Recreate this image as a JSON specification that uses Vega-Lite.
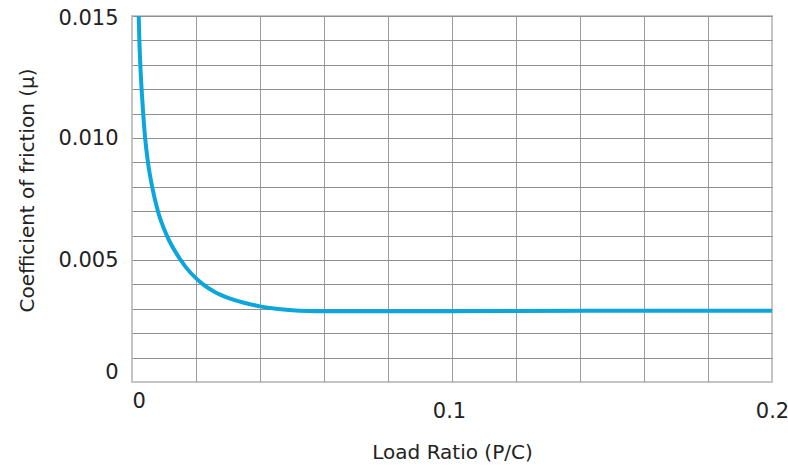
{
  "$schema": "https://vega.github.io/schema/vega-lite/v6.json",
  "width": 640,
  "height": 366,
  "autosize": {"type": "none"},
  "padding": {"left": 132, "top": 16, "right": 16, "bottom": 85},
  "background": "white",
  "config": {
    "font": "DejaVu Sans",
    "view": {"stroke": "#c4c4c4", "strokeWidth": 2}
  },
  "data": {
    "values": [
      {"ratio": 0.0021, "mu": 0.0150},
      {"ratio": 0.0023, "mu": 0.0140},
      {"ratio": 0.0026, "mu": 0.0130},
      {"ratio": 0.0030, "mu": 0.0120},
      {"ratio": 0.0035, "mu": 0.0110},
      {"ratio": 0.0041, "mu": 0.0100},
      {"ratio": 0.0050, "mu": 0.0090},
      {"ratio": 0.0063, "mu": 0.0080},
      {"ratio": 0.0081, "mu": 0.0070},
      {"ratio": 0.0109, "mu": 0.0060},
      {"ratio": 0.0152, "mu": 0.0050},
      {"ratio": 0.0222, "mu": 0.0040},
      {"ratio": 0.026, "mu": 0.00368},
      {"ratio": 0.030, "mu": 0.00345},
      {"ratio": 0.035, "mu": 0.00325},
      {"ratio": 0.040, "mu": 0.00310},
      {"ratio": 0.045, "mu": 0.00300},
      {"ratio": 0.050, "mu": 0.00294},
      {"ratio": 0.055, "mu": 0.00291},
      {"ratio": 0.060, "mu": 0.00290},
      {"ratio": 0.08, "mu": 0.00290},
      {"ratio": 0.12, "mu": 0.00291},
      {"ratio": 0.16, "mu": 0.00292},
      {"ratio": 0.2, "mu": 0.00292}
    ]
  },
  "mark": {"type": "line", "color": "#0aa6dc", "strokeWidth": 4, "interpolate": "monotone", "clip": true},
  "encoding": {
    "x": {
      "field": "ratio",
      "type": "quantitative",
      "scale": {"domain": [0, 0.2], "nice": false, "zero": false},
      "axis": {
        "title": "Load Ratio (P/C)",
        "titleFontSize": 20,
        "titleFontWeight": "normal",
        "titleColor": "#222",
        "titleY": 70,
        "titleBaseline": "middle",
        "values": [0, 0.02, 0.04, 0.06, 0.08, 0.1, 0.12, 0.14, 0.16, 0.18, 0.2],
        "labelExpr": "datum.value == 0 ? '0' : (abs(datum.value - 0.1) < 1e-9 ? '0.1' : (abs(datum.value - 0.2) < 1e-9 ? '0.2' : ''))",
        "labelFontSize": 21,
        "labelColor": "#222",
        "labelBaseline": "middle",
        "labelAlign": {"expr": "datum.value == 0 ? 'left' : 'center'"},
        "labelPadding": {"expr": "datum.value == 0 ? 19 : 29"},
        "labelOffset": {"expr": "abs(datum.value - 0.1) < 1e-9 ? -3 : 0"},
        "labelOverlap": false,
        "labelFlush": false,
        "ticks": false,
        "domain": false,
        "grid": true,
        "gridColor": {"expr": "(datum.value == 0 || datum.value > 0.199) ? '#c4c4c4' : '#9a9a9a'"},
        "gridWidth": 1,
        "gridOpacity": 1
      }
    },
    "y": {
      "field": "mu",
      "type": "quantitative",
      "scale": {"domain": [0, 0.015], "nice": false, "zero": false},
      "axis": {
        "title": "Coefficient of friction (μ)",
        "titleFontSize": 20,
        "titleFontWeight": "normal",
        "titleColor": "#222",
        "titleX": -105,
        "titleY": 174,
        "titleAngle": -90,
        "titleAlign": "center",
        "titleBaseline": "middle",
        "values": [0, 0.001, 0.002, 0.003, 0.004, 0.005, 0.006, 0.007, 0.008, 0.009, 0.01, 0.011, 0.012, 0.013, 0.014, 0.015],
        "labelExpr": "datum.value == 0 ? '0' : (round(datum.value * 1000) % 5 == 0 ? format(datum.value, '.3f') : '')",
        "labelFontSize": 21,
        "labelColor": "#222",
        "labelBaseline": "middle",
        "labelOffset": {"expr": "datum.value == 0 ? -10 : (datum.value > 0.0149 ? 2 : 0)"},
        "labelPadding": 14,
        "labelOverlap": false,
        "labelFlush": false,
        "ticks": false,
        "domain": false,
        "grid": true,
        "gridColor": {"expr": "datum.value == 0 ? '#c4c4c4' : '#8f8f8f'"},
        "gridWidth": 1,
        "gridOpacity": 1
      }
    }
  }
}
